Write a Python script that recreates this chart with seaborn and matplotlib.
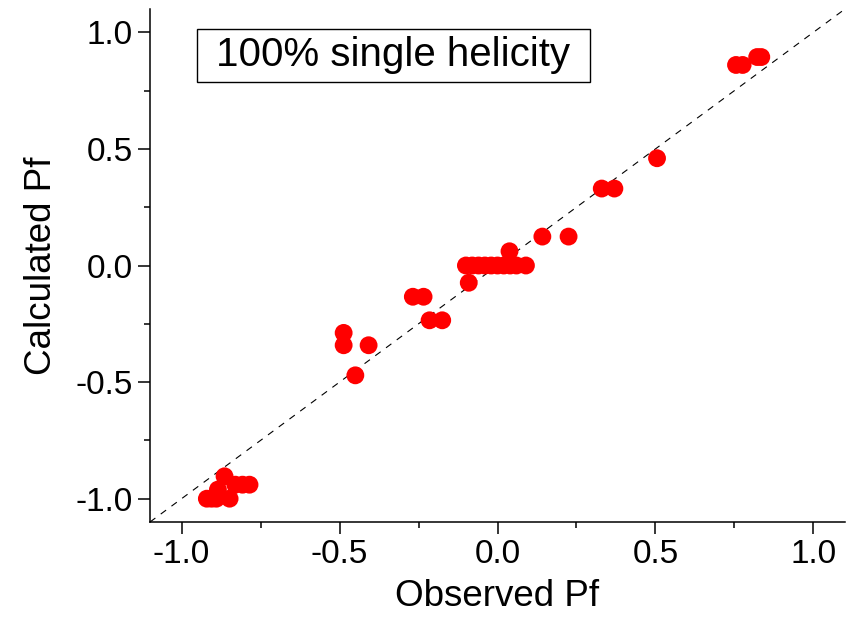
import matplotlib
matplotlib.use("Agg")
import matplotlib.pyplot as plt
from matplotlib.ticker import MultipleLocator, FormatStrFormatter
from matplotlib.patches import Rectangle
import seaborn as sns
import pandas as pd

observed = [
    0.755, 0.776, 0.822, 0.835,
    0.505,
    0.33, 0.37,
    0.142, 0.225,
    0.038,
    -0.10, -0.08, -0.06, -0.04, -0.02, 0.0, 0.02, 0.04, 0.06, 0.09,
    -0.091,
    -0.268, -0.234,
    -0.215, -0.175,
    -0.487, -0.487, -0.408,
    -0.45,
    -0.92, -0.905, -0.89, -0.885, -0.864, -0.848, -0.83, -0.807, -0.785,
]
calculated = [
    0.86, 0.86, 0.894, 0.894,
    0.46,
    0.33, 0.33,
    0.124, 0.124,
    0.061,
    0.0, 0.0, 0.0, 0.0, 0.0, 0.0, 0.0, 0.0, 0.0, 0.0,
    -0.074,
    -0.134, -0.134,
    -0.235, -0.235,
    -0.289, -0.342, -0.342,
    -0.471,
    -1.0, -1.0, -1.0, -0.961, -0.904, -1.0, -0.94, -0.94, -0.94,
]
diag = [-1.1, 1.1]
label_text = "100% single helicity"

df = pd.DataFrame({"Observed Pf": observed, "Calculated Pf": calculated})

sns.set_theme(style="ticks")
plt.rcParams["font.family"] = ["Liberation Sans", "DejaVu Sans"]

fig = plt.figure(figsize=(8.51, 6.21), dpi=100)
ax = fig.add_axes([150 / 851, 1 - 522 / 621, (845 - 150) / 851, (522 - 9) / 621])

ax.plot(diag, diag, color="black", lw=0.8, ls=(0, (6, 6)), zorder=1)
sns.scatterplot(data=df, x="Observed Pf", y="Calculated Pf", ax=ax,
                color="#ff0000", s=165, edgecolor="none", linewidth=0, zorder=2)

ax.set_xlim(-1.1, 1.1)
ax.set_ylim(-1.1, 1.1)
ax.xaxis.set_major_locator(MultipleLocator(0.5))
ax.yaxis.set_major_locator(MultipleLocator(0.5))
ax.xaxis.set_minor_locator(MultipleLocator(0.25))
ax.yaxis.set_minor_locator(MultipleLocator(0.25))
ax.xaxis.set_major_formatter(FormatStrFormatter("%.1f"))
ax.yaxis.set_major_formatter(FormatStrFormatter("%.1f"))

for s in ["top", "right"]:
    ax.spines[s].set_visible(False)
for s in ["left", "bottom"]:
    ax.spines[s].set_linewidth(1.1)
    ax.spines[s].set_color("black")

ax.tick_params(which="major", direction="out", length=8.5, width=1.1,
               labelsize=24, pad=4, color="black", labelcolor="black")
ax.tick_params(which="minor", direction="out", length=4.3, width=1.1, color="black")

ax.set_xlabel("Observed Pf", fontsize=26.5, labelpad=6, color="black")
ax.set_ylabel("Calculated Pf", fontsize=26.5, labelpad=12, color="black")

# boxed label
fig.patches.append(Rectangle((197 / 851, 1 - 82 / 621), (590 - 197) / 851, (82 - 29) / 621,
                             transform=fig.transFigure, facecolor="white",
                             edgecolor="black", linewidth=1.0, zorder=5))
fig.text((197 + 590) / 2 / 851, 1 - (29 + 82) / 2 / 621, label_text,
         ha="center", va="center", fontsize=29, color="black", zorder=6)

fig.savefig("out.png", dpi=100)
